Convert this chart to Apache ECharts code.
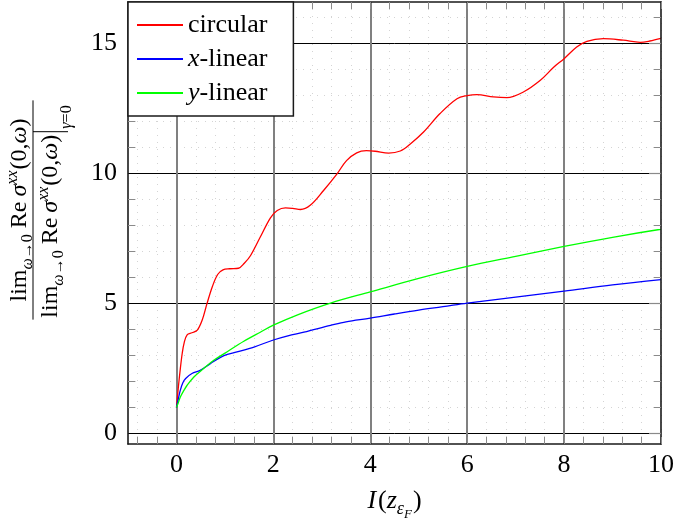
<!DOCTYPE html>
<html><head><meta charset="utf-8">
<script src="https://cdn.jsdelivr.net/npm/echarts@6/dist/echarts.min.js"></script>
<style>html,body{margin:0;padding:0;background:#fff}#c{width:675px;height:522px}</style>
</head><body><div id="c"></div>
<script>
// ---------- data ----------
const seriesNames = ['circular', 'x-linear', 'y-linear'];
const seriesColors = ['#ff0000', '#0000ff', '#00ff00'];
const circular = [
  [0,1.0],[0.04,1.8],[0.08,2.5],[0.12,3.1],[0.16,3.5],[0.22,3.8],[0.32,3.88],[0.43,3.98],[0.53,4.36],
  [0.63,5.0],[0.74,5.65],[0.85,6.12],[0.96,6.3],[1.1,6.34],[1.28,6.36],[1.4,6.55],[1.53,6.85],[1.73,7.56],
  [1.94,8.3],[2.08,8.58],[2.25,8.68],[2.4,8.66],[2.56,8.62],[2.76,8.78],[3.04,9.36],[3.31,9.98],[3.51,10.5],
  [3.72,10.8],[3.92,10.88],[4.1,10.86],[4.38,10.79],[4.62,10.87],[4.82,11.13],[5.1,11.6],[5.44,12.31],
  [5.79,12.88],[6.0,13.0],[6.2,13.04],[6.54,12.95],[6.82,12.92],[7.16,13.14],[7.51,13.59],[7.79,14.1],
  [8.0,14.42],[8.26,14.87],[8.47,15.09],[8.81,15.19],[9.22,15.13],[9.57,15.05],[9.77,15.1],[10,15.2]
];
const xLinear = [
  [0,1.0],[0.04,1.35],[0.08,1.67],[0.13,1.95],[0.19,2.12],[0.32,2.31],[0.49,2.43],[0.7,2.69],[0.98,3.0],
  [1.25,3.14],[1.6,3.33],[2.0,3.6],[2.3,3.76],[2.63,3.9],[3.18,4.16],[3.5,4.3],[4.0,4.44],[4.5,4.6],
  [5.0,4.75],[5.5,4.88],[6.0,5.02],[7.0,5.25],[8.0,5.48],[9.0,5.72],[10,5.92]
];
const yLinear = [
  [0,1.0],[0.04,1.2],[0.08,1.41],[0.15,1.65],[0.22,1.86],[0.36,2.18],[0.56,2.5],[0.77,2.82],[1.04,3.14],
  [1.39,3.55],[1.73,3.9],[2.0,4.17],[2.5,4.57],[3.18,5.02],[4.0,5.45],[5.0,5.97],[6.0,6.43],[7.0,6.82],
  [8.0,7.2],[9.0,7.55],[10,7.86]
];
const xTickLabels = [0, 2, 4, 6, 8, 10];
const xMajorGrid = [0, 2, 4, 6, 8];
const yTickLabels = [0, 5, 10, 15];
const X_MIN = -1, X_MAX = 10, Y_MIN = -0.4, Y_MAX = 16.6;
const xMinor = []; for (let k = -2; k <= 25; k++) xMinor.push(Math.round(k * 4) / 10);
const yMinor = []; for (let k = 0; k <= 16; k++) yMinor.push(k);
const yMinorOnly = yMinor.filter(v => v % 5 !== 0);

// ---------- styles ----------
const FONT = '"Liberation Serif", "Times New Roman", serif';
const FRAME = '#1a1a1a', TICK = '#8a8a8a';

function xAxis(o) {
  return Object.assign({
    type: 'value', min: X_MIN, max: X_MAX, position: 'bottom', z: 0,
    axisLine: { show: false, onZero: false },
    axisTick: { show: false }, axisLabel: { show: false }, splitLine: { show: false }
  }, o);
}
function yAxis(o) {
  return Object.assign({
    type: 'value', min: Y_MIN, max: Y_MAX, position: 'left', z: 0,
    axisLine: { show: false, onZero: false },
    axisTick: { show: false }, axisLabel: { show: false }, splitLine: { show: false }
  }, o);
}

const xAxes = [
  xAxis({ z: 3,
    axisLine: { show: true, onZero: false, lineStyle: { color: FRAME, width: 1.6 } },
    axisTick: { show: true, inside: true, length: 7, customValues: xMinor, lineStyle: { color: TICK, width: 1 } },
    axisLabel: { show: true, customValues: xTickLabels, fontSize: 26, fontFamily: FONT, color: '#000', margin: 8 }
  }),
  xAxis({ z: 1, axisTick: { show: false, customValues: xMajorGrid },
    splitLine: { show: true, lineStyle: { color: '#808080', width: 2 } } }),
  xAxis({ z: 0, axisTick: { show: false, customValues: xMinor },
    splitLine: { show: true, lineStyle: { color: '#d4d4d4', width: 1, type: [1, 6] } } }),
  xAxis({ z: 3, position: 'top',
    axisLine: { show: true, onZero: false, lineStyle: { color: FRAME, width: 1.6 } },
    axisTick: { show: true, inside: true, length: 7, customValues: xMinor, lineStyle: { color: TICK, width: 1 } } })
];
const yAxes = [
  yAxis({ z: 3,
    axisLine: { show: true, onZero: false, lineStyle: { color: FRAME, width: 1.6 } },
    axisTick: { show: true, inside: true, length: 7, customValues: yMinorOnly, lineStyle: { color: TICK, width: 1 } },
    axisLabel: { show: true, customValues: yTickLabels, fontSize: 26, fontFamily: FONT, color: '#000', margin: 11 }
  }),
  yAxis({ z: 1, axisTick: { show: false, customValues: yTickLabels },
    splitLine: { show: true, lineStyle: { color: '#000', width: 1 } } }),
  yAxis({ z: 0, axisTick: { show: false, customValues: yMinor },
    splitLine: { show: true, lineStyle: { color: '#d4d4d4', width: 1, type: [1, 6] } } }),
  yAxis({ z: 3, position: 'right',
    axisLine: { show: true, onZero: false, lineStyle: { color: FRAME, width: 1.6 } },
    axisTick: { show: true, inside: true, length: 7, customValues: yMinorOnly, lineStyle: { color: TICK, width: 1 } } }),
  yAxis({ z: 3, position: 'right',
    axisTick: { show: true, inside: true, length: 12, customValues: yTickLabels, lineStyle: { color: TICK, width: 1.2 } } })
];

// ---------- math-like text helpers ----------
const mctx = document.createElement('canvas').getContext('2d');
function tw(t, s, it) { mctx.font = (it ? 'italic ' : '') + s + 'px ' + FONT; return mctx.measureText(t).width; }
function runText(tokens, x0, base) {
  let x = x0; const els = [];
  for (const tk of tokens) {
    if (tk.sp) { x += tk.sp; continue; }
    els.push({ type: 'text', x: x, y: base + (tk.dy || 0) - 0.3375 * tk.s,
      style: { text: tk.t, fontSize: tk.s, fontFamily: FONT, fontStyle: tk.it ? 'italic' : 'normal',
               fill: '#000', align: 'left', verticalAlign: 'middle' } });
    x += tw(tk.t, tk.s, tk.it);
  }
  return { els, end: x };
}
function width(tokens) { return runText(tokens, 0, 0).end; }

const M = 24, S = 16;
const limRe = [
  { t: 'lim', s: M }, { t: 'ω', s: S, it: true, dy: 5 }, { t: '→', s: S, dy: 5 }, { t: '0', s: S, dy: 5 },
  { sp: 6 }, { t: 'Re', s: M }, { sp: 5 }, { t: 'σ', s: M, it: true },
  { t: 'xx', s: S, it: true, dy: -10 }, { sp: 1 },
  { t: '(', s: M }, { t: '0', s: M }, { t: ',', s: M }, { t: 'ω', s: M, it: true }, { t: ')', s: M }
];
const subG = [{ t: 'γ', s: S, it: true }, { t: '=', s: S }, { t: '0', s: S }];

const wN = width(limRe);
const wSub = width(subG);
const totalD = wN + 4 + 3 + wSub;
const num = runText(limRe, -wN / 2, -5);
const den = runText(limRe, -totalD / 2 - 1, 26);
const barX = den.end + 3;
const sub = runText(subG, barX + 3, 39);
const L = Math.max(wN, totalD) + 6;

const yLabelGroup = {
  type: 'group', x: 33, y: 210, rotation: Math.PI / 2, z: 10,
  children: [].concat(num.els, den.els, sub.els, [
    { type: 'line', shape: { x1: -L / 2, y1: 0, x2: L / 2, y2: 0 }, style: { stroke: '#000', lineWidth: 1 } },
    { type: 'line', shape: { x1: barX, y1: 0, x2: barX, y2: 35 }, style: { stroke: '#000', lineWidth: 1 } }
  ])
};

const xName = [
  { t: 'I', s: 26, it: true }, { sp: 2 }, { t: '(', s: 26 }, { t: 'z', s: 26, it: true },
  { t: 'ε', s: 18, it: true, dy: 5 }, { t: 'F', s: 13, it: true, dy: 9 }, { sp: 1 }, { t: ')', s: 26 }
];
const wX = width(xName);
const xNameRun = runText(xName, 394.5 - wX / 2, 510);

// ---------- chart ----------
const chart = echarts.init(document.getElementById('c'), null, { renderer: 'canvas' });
chart.setOption({
  animation: false,
  backgroundColor: '#fff',
  grid: { left: 128, right: 14, top: 2, bottom: 78, containLabel: false, outerBoundsMode: 'none' },
  xAxis: xAxes,
  yAxis: yAxes,
  legend: {
    data: seriesNames, orient: 'vertical', left: 128, top: 2,
    backgroundColor: '#fff', borderColor: FRAME, borderWidth: 1.5, borderRadius: 0,
    padding: [6, 26, 6, 9], itemGap: 0, itemWidth: 46, itemHeight: 2, icon: 'rect',
    selectedMode: false, z: 8,
    formatter: function (name) {
      const m = name.match(/^([xy])(-.*)$/);
      return m ? '{i|' + m[1] + '}' + m[2] : name;
    },
    textStyle: { fontSize: 26, fontFamily: FONT, color: '#000', lineHeight: 34,
      rich: { i: { fontStyle: 'italic', fontSize: 26, fontFamily: FONT, color: '#000', lineHeight: 34 } } }
  },
  series: seriesNames.map((n, i) => ({
    name: n, type: 'line', xAxisIndex: 0, yAxisIndex: 0,
    data: [circular, xLinear, yLinear][i],
    symbol: 'none', showSymbol: false, smooth: 0.35, z: 2,
    lineStyle: { width: 1.3, color: seriesColors[i] },
    itemStyle: { color: seriesColors[i] }
  })),
  graphic: [yLabelGroup].concat(xNameRun.els.map(e => Object.assign(e, { z: 10 })))
});
</script>
</body></html>
